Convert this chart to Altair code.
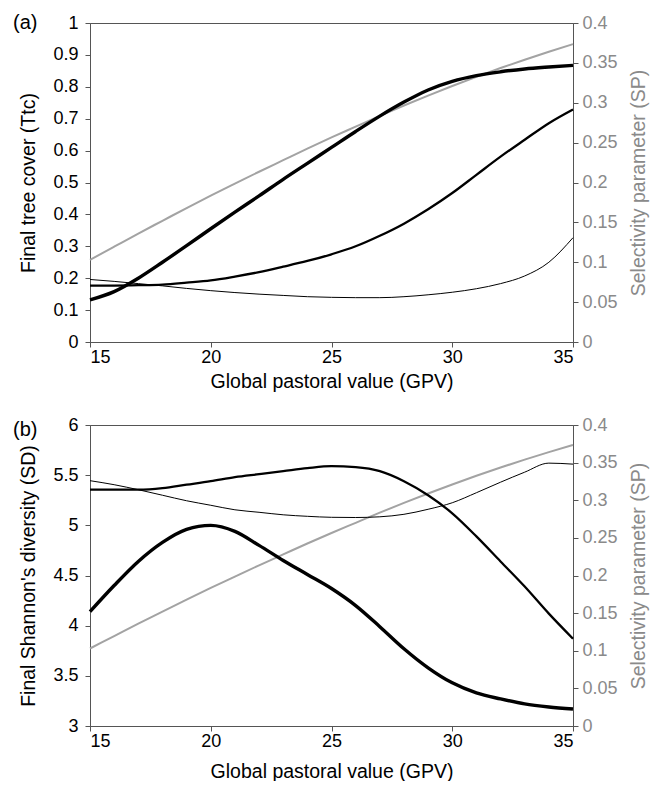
import altair as alt
import pandas as pd

# Global pastoral value (x axis)
gpv = [15, 16, 17, 18, 19, 20, 21, 22, 23, 24, 25, 26, 27, 28, 29, 30, 31, 32, 33, 34, 35]

# Selectivity parameter (right axis, same in both panels)
sp = [0.103, 0.1195, 0.136, 0.152, 0.168, 0.1835, 0.1985, 0.2135, 0.228, 0.2425, 0.2565,
      0.270, 0.2835, 0.2965, 0.309, 0.321, 0.3325, 0.3435, 0.354, 0.364, 0.3735]

# Panel (a): final tree cover (Ttc)
ttc_thick = [0.132, 0.158, 0.200, 0.250, 0.302, 0.355, 0.407, 0.458, 0.510, 0.560, 0.610,
             0.660, 0.708, 0.752, 0.790, 0.817, 0.835, 0.847, 0.856, 0.862, 0.867]
ttc_medium = [0.177, 0.177, 0.178, 0.180, 0.186, 0.193, 0.205, 0.219, 0.236, 0.254, 0.275,
              0.300, 0.333, 0.371, 0.416, 0.467, 0.524, 0.581, 0.634, 0.686, 0.729]
ttc_thin = [0.196, 0.190, 0.183, 0.176, 0.168, 0.161, 0.155, 0.150, 0.146, 0.142, 0.140,
            0.139, 0.139, 0.142, 0.148, 0.156, 0.167, 0.183, 0.207, 0.250, 0.327]

# Panel (b): final Shannon's diversity (SD)
sd_thick = [4.14, 4.40, 4.64, 4.83, 4.96, 5.00, 4.94, 4.80, 4.65, 4.51, 4.37,
            4.20, 3.99, 3.77, 3.58, 3.43, 3.33, 3.27, 3.22, 3.19, 3.17]
sd_medium = [5.355, 5.355, 5.355, 5.37, 5.405, 5.44, 5.48, 5.51, 5.54, 5.57, 5.59,
             5.58, 5.54, 5.44, 5.30, 5.12, 4.89, 4.64, 4.39, 4.12, 3.87]
sd_thin = [5.445, 5.405, 5.355, 5.30, 5.245, 5.20, 5.155, 5.13, 5.105, 5.09, 5.08,
           5.078, 5.085, 5.11, 5.16, 5.225, 5.325, 5.43, 5.53, 5.62, 5.61]

series_widths = [3.4, 2.3, 1.0]

FONT = "Liberation Sans"
GREY_TEXT = "#8a8a8a"
GREY_LINE = "#a3a3a3"


def panel(label, label_y, series, left_domain, left_ticks, left_title, height, title_pad):
    sp_df = pd.DataFrame({"gpv": gpv, "sp": sp})

    x = alt.X(
        "gpv:Q",
        scale=alt.Scale(domain=[15, 35], nice=False),
        axis=alt.Axis(values=[15, 20, 25, 30, 35], title="Global pastoral value (GPV)",
                      titlePadding=title_pad, labelPadding=1),
    )

    grey = alt.Chart(sp_df).mark_line(color=GREY_LINE, strokeWidth=2,
                                      interpolate="monotone").encode(
        x=x,
        y=alt.Y(
            "sp:Q",
            scale=alt.Scale(domain=[0, 0.4], nice=False, zero=False),
            axis=alt.Axis(
                orient="right",
                values=[0, 0.05, 0.1, 0.15, 0.2, 0.25, 0.3, 0.35, 0.4],
                format="~g",
                title="Selectivity parameter (SP)",
                titleAngle=270,
                titleBaseline="top",
                labelColor=GREY_TEXT,
                titleColor=GREY_TEXT,
                labelPadding=4,
                titlePadding=12,
            ),
        ),
    )

    yscale = alt.Scale(domain=left_domain, nice=False, zero=False)
    yaxis = alt.Axis(orient="left", values=left_ticks, format="~g",
                     title=left_title, labelPadding=7, titlePadding=14)
    black_layers = []
    for vals, w in zip(series, series_widths):
        df = pd.DataFrame({"gpv": gpv, "value": vals})
        black_layers.append(
            alt.Chart(df).mark_line(color="black", strokeWidth=w, interpolate="monotone")
            .encode(x=x, y=alt.Y("value:Q", scale=yscale, axis=yaxis))
        )
    blacks = alt.layer(*black_layers)

    txt = alt.Chart(pd.DataFrame({"t": [label]})).mark_text(
        align="left", baseline="middle", fontSize=20, font=FONT, color="black"
    ).encode(x=alt.value(-77), y=alt.value(label_y), text="t:N")

    return alt.layer(grey, blacks, txt).resolve_scale(y="independent").properties(
        width=483, height=height
    )


pa = panel("(a)", 0, [ttc_thick, ttc_medium, ttc_thin], [0, 1],
           [0, 0.1, 0.2, 0.3, 0.4, 0.5, 0.6, 0.7, 0.8, 0.9, 1],
           "Final tree cover (Ttc)", 319, 6)
pb = panel("(b)", 5, [sd_thick, sd_medium, sd_thin], [3, 6],
           [3, 3.5, 4, 4.5, 5, 5.5, 6],
           "Final Shannon's diversity (SD)", 301, 12)

chart = alt.vconcat(pa, pb, spacing=24).properties(
    padding={"left": 12, "top": 12, "right": 5, "bottom": 0},
    background="white",
).configure_view(stroke="#555555", strokeWidth=1).configure_axis(
    labelFont=FONT, titleFont=FONT, labelFontSize=18, titleFontSize=19.5,
    titleFontWeight="normal", labelColor="black", titleColor="black",
    domainColor="#555555", tickColor="#555555", tickSize=5, grid=False,
    labelOverlap=False,
)

chart.save("out.html", embed_options={"renderer": "svg", "actions": False})
